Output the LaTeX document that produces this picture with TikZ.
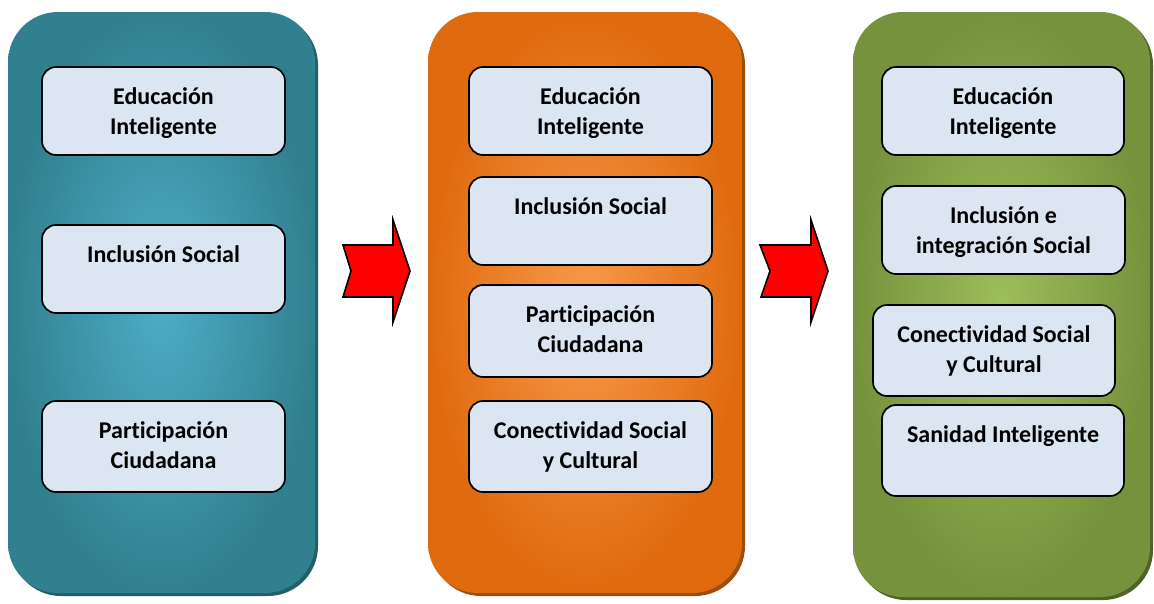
\documentclass[tikz,border=0pt]{standalone}
\usepackage{fontspec}
\setmainfont[Ligatures=NoCommon]{Carlito}
\definecolor{tealE}{HTML}{31808F}
\definecolor{tealC}{HTML}{4DADC7}
\definecolor{tealS}{HTML}{215F6B}
\definecolor{oranE}{HTML}{E06A0E}
\definecolor{oranC}{HTML}{F79A4B}
\definecolor{oranS}{HTML}{9E4E0C}
\definecolor{grnE}{HTML}{76923C}
\definecolor{grnC}{HTML}{9EBD5B}
\definecolor{grnS}{HTML}{4F6228}
\definecolor{boxfill}{HTML}{DCE6F2}
\tikzset{
  cbox/.style={draw=black, line width=1.7pt, fill=boxfill, rounded corners=14pt, inner sep=0pt, outer sep=0pt},
  ctext/.style={font=\fontsize{24}{30}\selectfont\bfseries, align=center, inner sep=0pt, text=black},
  redarrow/.style={draw=black, line width=1.6pt, fill=red, line join=miter},
}
\newcommand\mybx[6]{%
  \node[cbox, minimum width={#4-#2}, minimum height={#5-#3}] (#1) at ({(#2+#4)/2},{(#3+#5)/2}) {};
  \node[ctext, anchor=north] (#1t) at ([yshift=-16pt]#1.north) {\strut #6};
}
\begin{document}
\begin{tikzpicture}[x=1pt,y=-1pt]
\useasboundingbox (0,0) rectangle (1154,603);
% panels with shadow
\fill[tealS, rounded corners=50pt] (11,15) rectangle (318,596);
\shade[inner color=tealC, outer color=tealE, rounded corners=50pt] (8,12) rectangle (315,593);
\fill[oranS, rounded corners=50pt] (431,15) rectangle (745,596);
\shade[inner color=oranC, outer color=oranE, rounded corners=50pt] (428,12) rectangle (742,593);
\fill[grnS, rounded corners=50pt] (856,15) rectangle (1153,600);
\shade[inner color=grnC, outer color=grnE, rounded corners=50pt] (853,12) rectangle (1150,597);
% arrows
\coordinate (a1) at (343,245);
\draw[redarrow] (a1) -- (393,245) -- (393,220) -- (410,271) -- (393,322) -- (393,297) -- (343,297) -- (351,271) -- cycle;
\coordinate (a2) at (760,245);
\draw[redarrow] (a2) -- (811,245) -- (811,220) -- (828,271) -- (811,322) -- (811,297) -- (761,297) -- (770,271) -- cycle;
% panel 1
\mybx{pa1}{42}{67}{285}{155}{Educación\\Inteligente}
\mybx{pa2}{42}{225}{285}{313}{Inclusión Social}
\mybx{pa3}{42}{401}{285}{492}{Participación\\Ciudadana}
% panel 2
\mybx{pb1}{469}{67}{712}{155}{Educación\\Inteligente}
\mybx{pb2}{469}{177}{712}{265}{Inclusión Social}
\mybx{pb3}{469}{285}{712}{377}{Participación\\Ciudadana}
\mybx{pb4}{469}{401}{712}{492}{Conectividad Social\\y Cultural}
% panel 3
\mybx{pc1}{882}{67}{1124}{155}{Educación\\Inteligente}
\mybx{pc2}{882}{186}{1125}{274}{Inclusión e\\integración Social}
\mybx{pc3}{873}{305}{1115}{396}{Conectividad Social\\y Cultural}
\mybx{pc4}{882}{405}{1124}{496}{Sanidad Inteligente}
\end{tikzpicture}
\end{document}
